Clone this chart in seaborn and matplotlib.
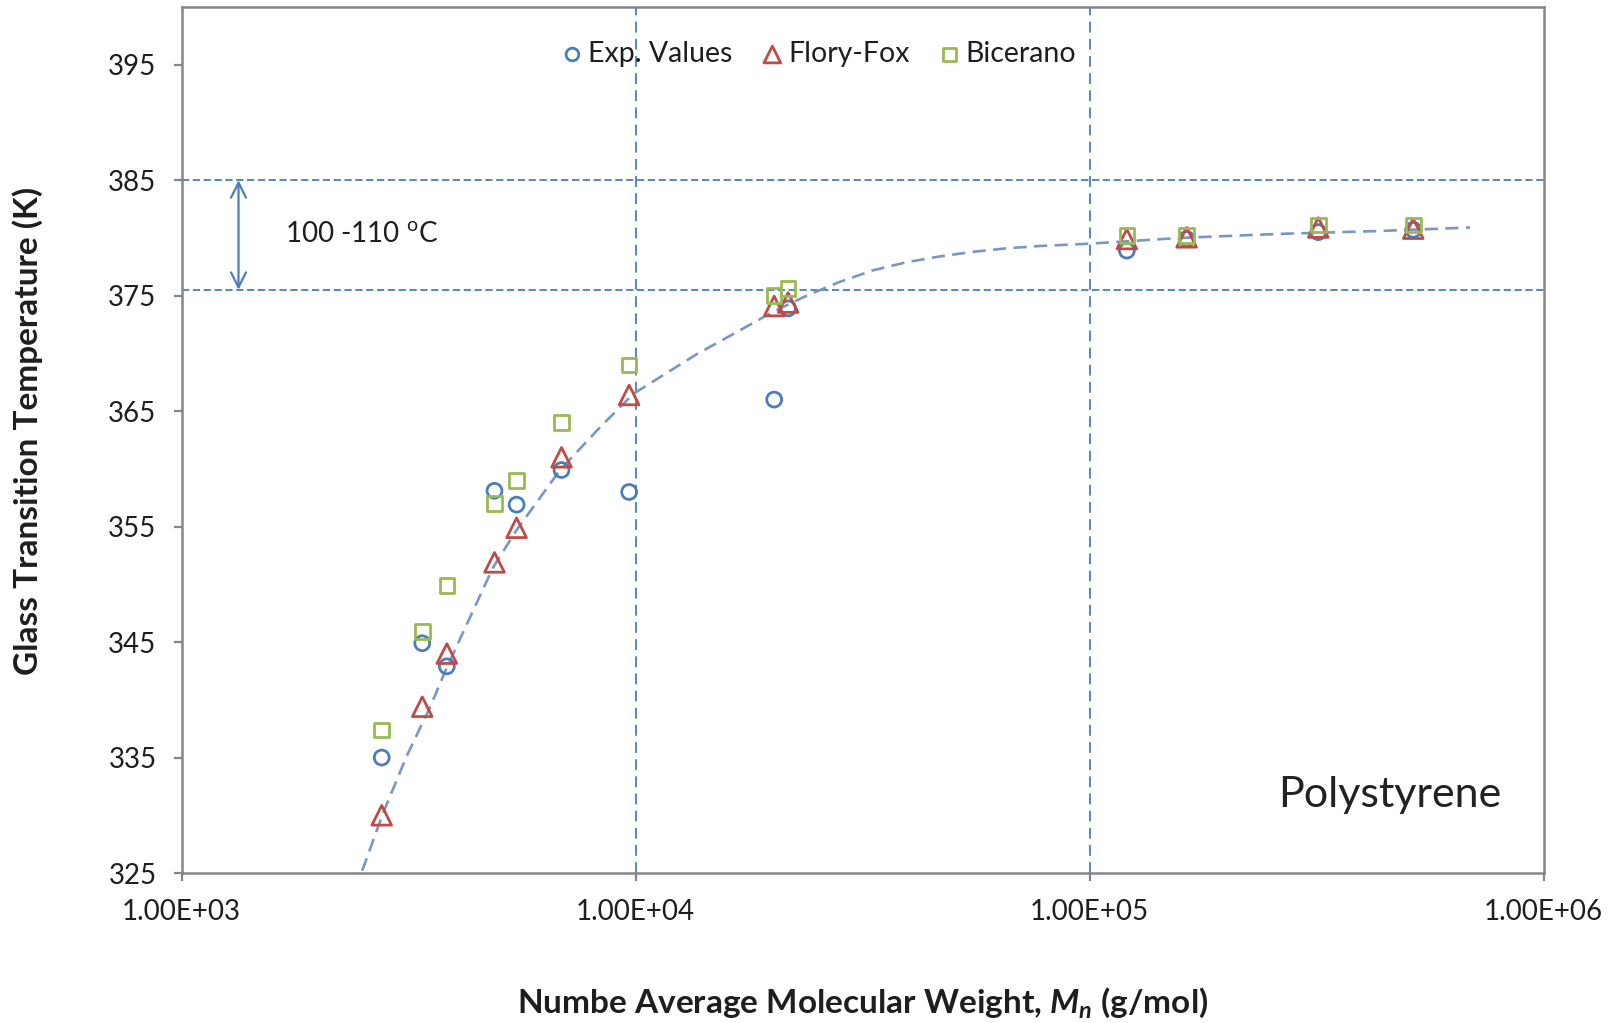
import matplotlib
matplotlib.use("Agg")
import matplotlib.pyplot as plt
import seaborn as sns
import pandas as pd

# Number-average molecular weight (g/mol) and glass transition temperatures (K)
mn = [2760, 3390, 3840, 4890, 5470, 6870, 9680, 20200, 21680,
      120800, 163600, 319000, 516400]
tg_exp = [335.0, 344.9, 342.9, 358.1, 356.9, 359.9, 358.0, 366.0, 373.9,
          378.9, 379.9, 380.5, 380.7]
tg_flory_fox = [330.0, 339.4, 344.0, 351.9, 354.9, 361.0, 366.4, 374.1, 374.4,
                379.9, 380.05, 380.9, 380.8]
tg_bicerano = [337.4, 345.9, 349.9, 357.0, 359.0, 364.0, 369.0, 375.0, 375.6,
               380.2, 380.2, 381.1, 381.1]

# Trend curve through the data
trend_mn = [2500, 2780, 3130, 3530, 3840, 4860, 5470, 6820, 8350, 9890, 13600,
            16980, 20090, 23810, 28200, 33400, 39570, 46880, 55500, 65700, 77800,
            100000, 158300, 263000, 436500, 688500]
trend_tg = [325.2, 330.2, 335.1, 339.4, 342.8, 351.5, 354.7, 359.9, 363.6, 366.5, 369.9,
            372.0, 373.6, 375.0, 376.2, 377.2, 377.9, 378.4, 378.8, 379.1, 379.3,
            379.5, 380.0, 380.35, 380.6, 380.9]

y_ticks = [325, 335, 345, 355, 365, 375, 385, 395]
x_ticks = [1e3, 1e4, 1e5, 1e6]
x_tick_labels = ["1.00E+03", "1.00E+04", "1.00E+05", "1.00E+06"]
band_tg = [385.0, 375.5]
decade_lines = [1e4, 1e5]

sns.set_theme(style="white")
base = ["Lato", "DejaVu Sans"]
plt.rcParams["font.family"] = base
plt.rcParams["mathtext.fontset"] = "custom"
plt.rcParams["mathtext.it"] = "Lato:italic:bold"
plt.rcParams["mathtext.rm"] = "Lato"

BLUE = "#4A7EBB"
RED = "#BE4B48"
GREEN = "#98B954"
SPINE = "#868686"
INK = "#1e1e1e"

fig = plt.figure(figsize=(16.18, 10.23), dpi=100)
ax = fig.add_axes([0.1122, 0.1466, 0.8418, 0.8466])

df = pd.DataFrame({"mn": mn, "exp": tg_exp, "ff": tg_flory_fox, "bic": tg_bicerano})
trend = pd.DataFrame({"mn": trend_mn, "tg": trend_tg})

# reference grid lines
for t in band_tg:
    ax.axhline(t, color=BLUE, lw=1.3, ls=(0, (4, 2)), zorder=1)
for m in decade_lines:
    ax.axvline(m, color=BLUE, lw=1.3, ls=(0, (6, 3.5)), zorder=1)

sns.lineplot(data=trend, x="mn", y="tg", ax=ax, color="#7897C2", lw=1.9,
             ls=(0, (5, 2.8)), zorder=2, legend=False)

sns.scatterplot(data=df, x="mn", y="exp", ax=ax, marker="o", s=115,
                facecolor="none", edgecolor=BLUE, linewidth=2.0,
                label="Exp. Values", zorder=4)
sns.scatterplot(data=df, x="mn", y="ff", ax=ax, marker="^", s=200,
                facecolor="none", edgecolor=RED, linewidth=2.0,
                label="Flory-Fox", zorder=4)
sns.scatterplot(data=df, x="mn", y="bic", ax=ax, marker="s", s=110,
                facecolor="none", edgecolor=GREEN, linewidth=2.0,
                label="Bicerano", zorder=4)

ax.set_xscale("log")
ax.set_xlim(1e3, 1e6)
ax.set_ylim(325, 400)
ax.set_xticks(x_ticks)
ax.set_xticklabels(x_tick_labels)
ax.set_yticks(y_ticks)
ax.minorticks_off()
ax.tick_params(axis="both", which="major", direction="out", length=6, width=1.6,
               color=SPINE, labelsize=20, labelcolor=INK, left=True, bottom=True)
ax.tick_params(axis="y", pad=12)
ax.tick_params(axis="x", pad=13)

for side in ["left", "right", "top", "bottom"]:
    ax.spines[side].set_color(SPINE)
    ax.spines[side].set_linewidth(1.8)
    ax.spines[side].set_visible(True)

ax.set_xlabel("Numbe Average Molecular Weight, $M_n$ (g/mol)", fontsize=24,
              fontweight="bold", color=INK, va="center")
ax.xaxis.set_label_coords(0.5, -0.150)
ax.set_ylabel("Glass Transition Temperature (K)", fontsize=24,
              fontweight="bold", color=INK, va="center")
ax.yaxis.set_label_coords(-0.1128, 0.51)

# temperature band arrow and label
ax.annotate("", xy=(1335, 385.0), xytext=(1335, 375.5),
            arrowprops=dict(arrowstyle="<->,head_length=0.9,head_width=0.45",
                            color=BLUE, lw=1.6, shrinkA=0, shrinkB=0))
ax.text(1690, 380.3, "100 -110 $^{\\rm o}$C", fontsize=20,
        color=INK, va="center", ha="left")

ax.text(0.969, 0.09, "Polystyrene", transform=ax.transAxes, fontsize=31,
        color="#222222", ha="right", va="center")

leg = ax.legend(loc="center", bbox_to_anchor=(0.4665, 0.9457), ncol=3, frameon=False,
                fontsize=20.5, handletextpad=0.05, columnspacing=0.9, markerscale=0.85,
                handlelength=1.0)
for txt in leg.get_texts():
    txt.set_color(INK)

fig.savefig("out.png", dpi=100, facecolor="white")
